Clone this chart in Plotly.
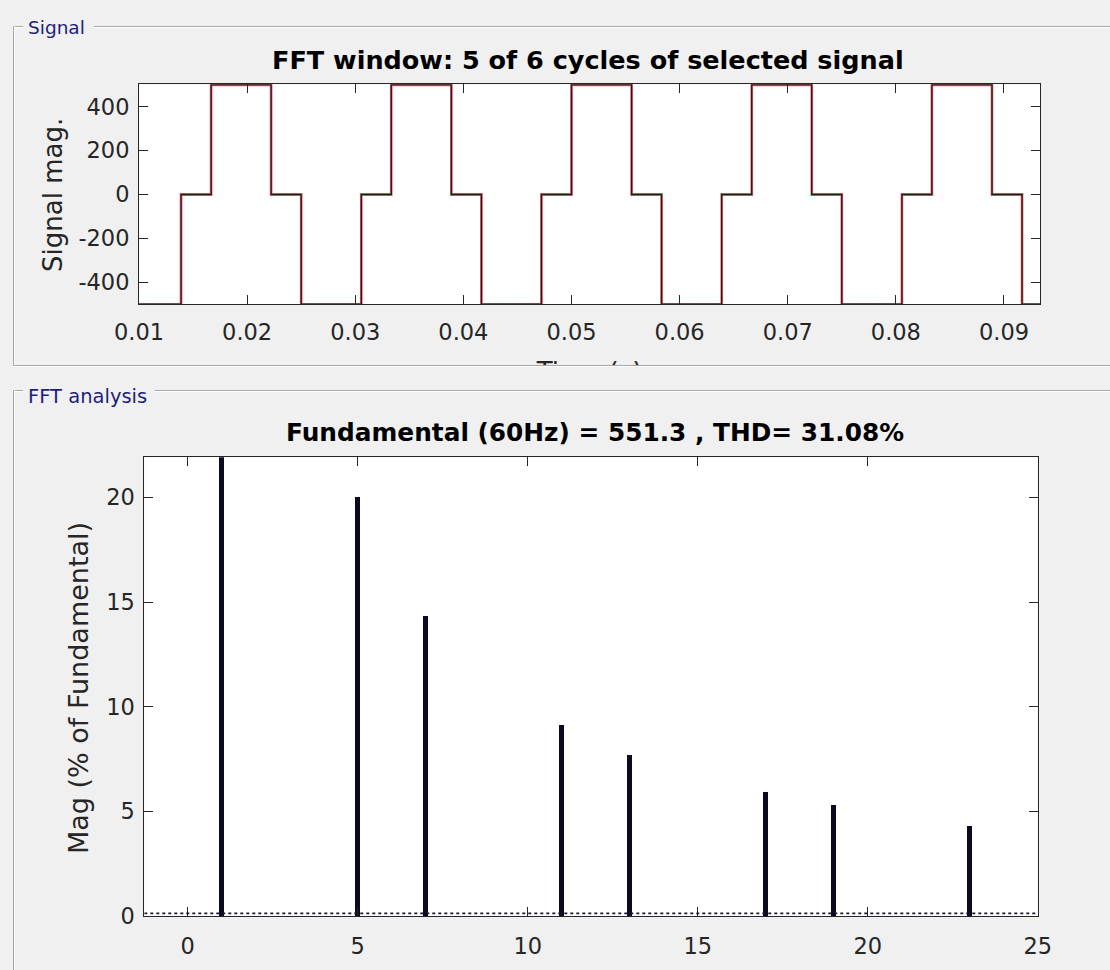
import plotly.graph_objects as go

# ---------------- data ----------------
# Signal (step waveform): breakpoints in time (s) and level held from each breakpoint
sig_time = [0.01, 0.01389, 0.01667, 0.02222, 0.025, 0.03056, 0.03333, 0.03889,
            0.04167, 0.04722, 0.05, 0.05556, 0.05833, 0.06389, 0.06667, 0.07222,
            0.075, 0.08056, 0.08333, 0.08889, 0.09167, 0.09333]
sig_level = [-500, 0, 500, 0, -500, 0, 500, 0, -500, 0, 500, 0, -500, 0, 500, 0,
             -500, 0, 500, 0, -500, -500]

# FFT spectrum: harmonic order and magnitude (% of fundamental)
harm_order = [1, 5, 7, 11, 13, 17, 19, 23]
harm_mag = [100.0, 20.0, 14.3, 9.1, 7.7, 5.9, 5.3, 4.3]

sig_xticks = [0.01, 0.02, 0.03, 0.04, 0.05, 0.06, 0.07, 0.08, 0.09]
sig_xticktext = ["0.01", "0.02", "0.03", "0.04", "0.05", "0.06", "0.07", "0.08", "0.09"]
sig_yticks = [-400, -200, 0, 200, 400]
sig_yticktext = ["-400", "-200", "0", "200", "400"]
fft_xticks = [0, 5, 10, 15, 20, 25]
fft_yticks = [0, 5, 10, 15, 20]

title_top = "FFT window: 5 of 6 cycles of selected signal"
title_bot = "Fundamental (60Hz) = 551.3 , THD= 31.08%"

# ---------------- layout helpers ----------------
W, H = 1110, 970
def px(x):
    return x / W
def py(y):
    return 1 - y / H

FONT = "DejaVu Sans"
AX = "#262626"

fig = go.Figure()

# Signal traces: red full signal with dark window trace on top
fig.add_trace(go.Scatter(x=sig_time, y=sig_level, mode="lines", line_shape="hv",
                         line=dict(color="#f76a7a", width=2.8), xaxis="x", yaxis="y",
                         hoverinfo="skip", showlegend=False))
fig.add_trace(go.Scatter(x=sig_time, y=sig_level, mode="lines", line_shape="hv",
                         line=dict(color="#2a1818", width=1.4), xaxis="x", yaxis="y",
                         hoverinfo="skip", showlegend=False))

# FFT bars
fig.add_trace(go.Bar(x=harm_order, y=harm_mag, width=0.14,
                     marker=dict(color="#0a0a20", line=dict(width=0)),
                     xaxis="x2", yaxis="y2", hoverinfo="skip", showlegend=False))

# clipped x-axis label of the signal panel
fig.add_trace(go.Scatter(x=[0.5], y=[-0.33], mode="text", text=["Time (s)"],
                         textfont=dict(family=FONT, size=26, color=AX),
                         cliponaxis=True, xaxis="x3", yaxis="y3",
                         hoverinfo="skip", showlegend=False))

axis_common = dict(showline=True, linecolor=AX, linewidth=1, mirror="ticks",
                   ticks="inside", ticklen=9, tickcolor=AX, tickwidth=1,
                   showgrid=False, zeroline=False, automargin=False,
                   tickfont=dict(family=FONT, size=22.5, color=AX))

fig.update_layout(
    template="none",
    width=W, height=H, margin=dict(l=0, r=0, t=0, b=0, pad=0), autosize=False,
    paper_bgcolor="#f0f0f0", plot_bgcolor="rgba(0,0,0,0)",
    bargap=0, showlegend=False,
    xaxis=dict(domain=[px(139), px(1040)], range=[0.01, 0.09333], anchor="y",
               tickmode="array", tickvals=sig_xticks, ticktext=sig_xticktext,
               ticklabelstandoff=8, **axis_common),
    yaxis=dict(domain=[py(304.3), py(84.3)], range=[-500, 502], anchor="x",
               tickmode="array", tickvals=sig_yticks, ticktext=sig_yticktext,
               ticklabelstandoff=4, **axis_common),
    xaxis2=dict(domain=[px(144.3), px(1037.7)], range=[-1.276, 25], anchor="y2",
                tickmode="array", tickvals=fft_xticks,
                ticklabelstandoff=10, **axis_common),
    yaxis2=dict(domain=[py(916), py(457.3)], range=[0, 21.92], anchor="x2",
                tickmode="array", tickvals=fft_yticks,
                ticklabelstandoff=4, **axis_common),
    xaxis3=dict(domain=[px(139), px(1040)], range=[0, 1], anchor="y3", visible=False,
                automargin=False),
    yaxis3=dict(domain=[py(365), py(335)], range=[0, 1], anchor="x3", visible=False,
                automargin=False),
)

shapes = []
# white plot backgrounds
for xr, yr in (("x domain", "y domain"), ("x2 domain", "y2 domain")):
    shapes.append(dict(type="rect", xref=xr, yref=yr, x0=0, x1=1, y0=0, y1=1,
                       fillcolor="white", line=dict(width=0), layer="below"))

# dotted baseline of small spectral bins
shapes.append(dict(type="line", xref="x2", yref="y2", x0=-1.276, x1=25, y0=0.13, y1=0.13,
                   line=dict(color="#1a1a2a", width=1.8, dash="dot"), layer="above"))

def hline(y, x0, x1):
    shapes.append(dict(type="line", xref="paper", yref="paper", x0=px(x0), x1=px(x1),
                       y0=py(y), y1=py(y), line=dict(color="#a8a8a8", width=1)))
    shapes.append(dict(type="line", xref="paper", yref="paper", x0=px(x0), x1=px(x1),
                       y0=py(y + 1), y1=py(y + 1), line=dict(color="#ffffff", width=1)))

def vline(x, y0, y1):
    shapes.append(dict(type="line", xref="paper", yref="paper", x0=px(x), x1=px(x),
                       y0=py(y0), y1=py(y1), line=dict(color="#a8a8a8", width=1)))
    shapes.append(dict(type="line", xref="paper", yref="paper", x0=px(x + 1), x1=px(x + 1),
                       y0=py(y0), y1=py(y1), line=dict(color="#ffffff", width=1)))

# "Signal" group frame
hline(26.5, 13.5, 23)
hline(26.5, 94, 1110)
vline(13.5, 26.5, 365.5)
hline(365.5, 13.5, 1110)
# "FFT analysis" group frame
hline(390.5, 13.5, 23)
hline(390.5, 155, 1110)
vline(13.5, 390.5, 970)

fig.update_layout(shapes=shapes)

ann = []
ann.append(dict(text="Signal", x=px(26), y=py(27), xref="paper", yref="paper",
                xanchor="left", yanchor="middle", showarrow=False,
                font=dict(family=FONT, size=18.5, color="#1e1e7a")))
ann.append(dict(text="FFT analysis", x=px(26), y=py(396), xref="paper", yref="paper",
                xanchor="left", yanchor="middle", showarrow=False,
                font=dict(family=FONT, size=19.5, color="#1e1e7a")))
ann.append(dict(text="<b>" + title_top + "</b>", x=px(588), y=py(60), xref="paper", yref="paper",
                xanchor="center", yanchor="middle", showarrow=False,
                font=dict(family=FONT, size=25.5, color="#000000")))
ann.append(dict(text="<b>" + title_bot + "</b>", x=px(595), y=py(432), xref="paper", yref="paper",
                xanchor="center", yanchor="middle", showarrow=False,
                font=dict(family=FONT, size=24.8, color="#000000")))
ann.append(dict(text="Signal mag.", x=px(53), y=py(195), xref="paper", yref="paper",
                xanchor="center", yanchor="middle", textangle=-90, showarrow=False,
                font=dict(family=FONT, size=26, color=AX)))
ann.append(dict(text="Mag (% of Fundamental)", x=px(78), y=py(688), xref="paper", yref="paper",
                xanchor="center", yanchor="middle", textangle=-90, showarrow=False,
                font=dict(family=FONT, size=27, color=AX)))
fig.update_layout(annotations=ann)

fig.write_html("out.html")
